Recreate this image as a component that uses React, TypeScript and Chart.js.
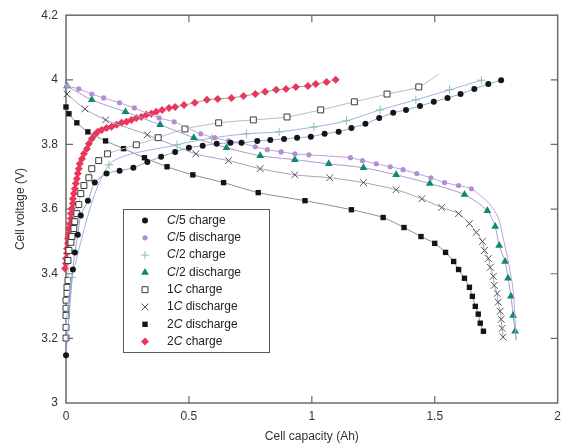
import React, { useEffect, useRef } from 'react';
import { Chart, registerables } from 'chart.js';

Chart.register(...registerables);

const xTicks = [0, 0.5, 1, 1.5, 2];
const yTicks = [3, 3.2, 3.4, 3.6, 3.8, 4, 4.2];
const xTitle = 'Cell capacity (Ah)';
const yTitle = 'Cell voltage (V)';

const legendLabels = [
  'C/5 charge',
  'C/5 discharge',
  'C/2 charge',
  'C/2 discharge',
  '1C charge',
  '1C discharge',
  '2C discharge',
  '2C charge',
];

const c5Charge: [number, number][] = [
  [0, 3.148], [0.028, 3.413], [0.036, 3.466], [0.048, 3.521], [0.06, 3.58], [0.089, 3.626],
  [0.117, 3.682], [0.165, 3.71], [0.218, 3.719], [0.274, 3.728], [0.331, 3.746], [0.387, 3.762],
  [0.444, 3.777], [0.5, 3.79], [0.556, 3.796], [0.613, 3.802], [0.669, 3.805], [0.714, 3.805],
  [0.778, 3.811], [0.831, 3.814], [0.887, 3.817], [0.94, 3.821], [0.996, 3.824], [1.052, 3.833],
  [1.109, 3.839], [1.161, 3.851], [1.218, 3.864], [1.274, 3.882], [1.331, 3.898], [1.383, 3.907],
  [1.44, 3.919], [1.496, 3.932], [1.552, 3.944], [1.605, 3.956], [1.661, 3.972], [1.718, 3.987],
  [1.77, 3.999],
];
const c5ChargeTail: [number, number][] = [];

const c5Discharge: [number, number][] = [
  [0.004, 3.981], [0.052, 3.972], [0.105, 3.956], [0.153, 3.944], [0.218, 3.929], [0.278, 3.913],
  [0.379, 3.882], [0.44, 3.87], [0.548, 3.833], [0.605, 3.821], [0.661, 3.811], [0.714, 3.805],
  [0.77, 3.793], [0.819, 3.784], [0.875, 3.777], [0.931, 3.771], [0.988, 3.768], [1.157, 3.759],
  [1.206, 3.75], [1.262, 3.74], [1.319, 3.731], [1.371, 3.722], [1.427, 3.71], [1.484, 3.697],
  [1.54, 3.682], [1.597, 3.673], [1.649, 3.663],
];
const c5DischargeTail: [number, number][] = [
  [1.722, 3.617], [1.758, 3.574], [1.778, 3.512], [1.798, 3.441], [1.819, 3.349], [1.831, 3.194],
];

const c2ChargeHead: [number, number][] = [[0, 3.241]];
const c2Charge: [number, number][] = [
  [0.024, 3.389], [0.175, 3.737], [0.452, 3.799], [0.593, 3.82], [0.734, 3.833], [0.867, 3.839],
  [1.008, 3.854], [1.141, 3.873], [1.278, 3.907], [1.423, 3.938], [1.56, 3.969], [1.69, 3.999],
];

const c2Discharge: [number, number][] = [
  [0.004, 3.981], [0.105, 3.938], [0.242, 3.901], [0.383, 3.861], [0.52, 3.821], [0.653, 3.79],
  [0.79, 3.765], [0.931, 3.753], [1.069, 3.74], [1.21, 3.728], [1.343, 3.706], [1.48, 3.679],
  [1.621, 3.645], [1.714, 3.595], [1.746, 3.546], [1.762, 3.487], [1.786, 3.438], [1.798, 3.386],
  [1.81, 3.33], [1.819, 3.271], [1.827, 3.222],
];
const c2DischargeTail: [number, number][] = [[1.831, 3.196]];

const oneCCharge: [number, number][] = [
  [0, 3.201], [0, 3.234], [0, 3.271], [0, 3.293], [0, 3.318], [0.004, 3.339], [0.004, 3.358],
  [0.008, 3.379], [0.008, 3.441], [0.012, 3.472], [0.02, 3.497], [0.024, 3.515], [0.032, 3.54],
  [0.036, 3.561], [0.044, 3.586], [0.052, 3.614], [0.06, 3.648], [0.073, 3.673], [0.093, 3.697],
  [0.105, 3.725], [0.133, 3.75], [0.169, 3.771], [0.286, 3.799], [0.375, 3.821], [0.484, 3.848],
  [0.621, 3.867], [0.762, 3.876], [0.899, 3.885], [1.036, 3.907], [1.173, 3.932], [1.306, 3.956],
  [1.435, 3.978],
];
const oneCChargeTail: [number, number][] = [[1.516, 4.018]];

const oneCDischarge: [number, number][] = [
  [0.004, 3.956], [0.077, 3.91], [0.161, 3.876], [0.331, 3.83], [0.528, 3.771], [0.661, 3.75],
  [0.79, 3.725], [0.931, 3.706], [1.073, 3.697], [1.21, 3.682], [1.343, 3.66], [1.448, 3.632],
  [1.528, 3.605], [1.597, 3.586], [1.641, 3.555], [1.669, 3.528], [1.694, 3.5], [1.702, 3.472],
  [1.718, 3.447], [1.726, 3.42], [1.738, 3.392], [1.742, 3.364], [1.754, 3.339], [1.758, 3.312],
  [1.766, 3.284], [1.77, 3.259], [1.774, 3.231], [1.778, 3.204],
];
const oneCDischargeTail: [number, number][] = [];

const twoCDischarge: [number, number][] = [
  [0, 3.916], [0.012, 3.895], [0.044, 3.867], [0.089, 3.839], [0.161, 3.811], [0.234, 3.787],
  [0.319, 3.759], [0.411, 3.731], [0.516, 3.706], [0.641, 3.682], [0.782, 3.651], [0.972, 3.626],
  [1.161, 3.598], [1.29, 3.574], [1.375, 3.543], [1.444, 3.515], [1.5, 3.494], [1.544, 3.466],
  [1.577, 3.438], [1.597, 3.413], [1.621, 3.386], [1.641, 3.358], [1.653, 3.33], [1.665, 3.299],
  [1.677, 3.275], [1.685, 3.247], [1.698, 3.222],
];
const twoCDischargeTail: [number, number][] = [];

const twoCCharge: [number, number][] = [
  [-0.006, 3.265], [-0.006, 3.281], [-0.006, 3.296], [-0.006, 3.312], [-0.006, 3.327], [-0.006, 3.342],
  [-0.006, 3.355], [-0.006, 3.37], [-0.004, 3.386], [-0.004, 3.401], [-0.004, 3.416], [0, 3.432],
  [0, 3.447], [0.004, 3.463], [0.004, 3.478], [0.008, 3.494], [0.008, 3.509], [0.012, 3.524],
  [0.012, 3.54], [0.016, 3.555], [0.02, 3.571], [0.02, 3.586], [0.024, 3.602], [0.028, 3.617],
  [0.028, 3.632], [0.032, 3.648], [0.036, 3.663], [0.04, 3.679], [0.044, 3.694], [0.048, 3.71],
  [0.052, 3.725], [0.056, 3.74], [0.065, 3.756], [0.073, 3.771], [0.085, 3.787], [0.093, 3.802],
  [0.105, 3.818], [0.117, 3.83], [0.129, 3.839], [0.145, 3.845], [0.165, 3.851], [0.185, 3.855],
  [0.206, 3.861], [0.226, 3.867], [0.246, 3.87], [0.266, 3.876], [0.286, 3.882], [0.306, 3.885],
  [0.327, 3.892], [0.347, 3.895], [0.367, 3.901], [0.391, 3.907], [0.419, 3.913], [0.444, 3.916],
  [0.48, 3.922], [0.524, 3.929], [0.573, 3.938], [0.617, 3.941], [0.673, 3.944], [0.722, 3.95],
  [0.77, 3.956], [0.81, 3.963], [0.855, 3.969], [0.895, 3.972], [0.935, 3.978], [0.984, 3.981],
  [1.016, 3.987], [1.06, 3.993], [1.097, 4.0],
];
const twoCChargeTail: [number, number][] = [];

type Style = 'circle' | 'triangle' | 'rect' | 'rectRot' | 'cross' | 'crossRot';
interface SeriesDef {
  head: [number, number][];
  pts: [number, number][];
  tail: [number, number][];
  style: Style;
  r: number;
  fill: string;
  stroke: string;
  bw: number;
  line: string;
}

const seriesDefs: SeriesDef[] = [
  { head: [], pts: c5Charge, tail: c5ChargeTail, style: 'circle', r: 3, fill: '#161616', stroke: '#161616', bw: 0, line: '#8fa6dc' },
  { head: [], pts: c5Discharge, tail: c5DischargeTail, style: 'circle', r: 2.6, fill: '#b48ed0', stroke: '#b48ed0', bw: 0, line: '#b8a3d8' },
  { head: c2ChargeHead, pts: c2Charge, tail: [], style: 'cross', r: 4.2, fill: '#86c6a4', stroke: '#86c6a4', bw: 1, line: '#9db2e4' },
  { head: [], pts: c2Discharge, tail: c2DischargeTail, style: 'triangle', r: 4.5, fill: '#0f8a6b', stroke: '#0f8a6b', bw: 0, line: '#a89ccc' },
  { head: [], pts: oneCCharge, tail: oneCChargeTail, style: 'rect', r: 4.2, fill: '#ffffff', stroke: '#3a3a3a', bw: 1, line: '#b9b9c6' },
  { head: [], pts: oneCDischarge, tail: oneCDischargeTail, style: 'crossRot', r: 4.8, fill: '#555555', stroke: '#555555', bw: 1, line: '#a69fbe' },
  { head: [], pts: twoCDischarge, tail: twoCDischargeTail, style: 'rect', r: 3.8, fill: '#141414', stroke: '#141414', bw: 0, line: '#8c8c8c' },
  { head: [], pts: twoCCharge, tail: twoCChargeTail, style: 'rectRot', r: 4, fill: '#e8375b', stroke: '#e8375b', bw: 0, line: '#9a9a9a' },
];

const FONT = '"Liberation Sans", Arial, Helvetica, sans-serif';

function drawShape(ctx: CanvasRenderingContext2D, s: SeriesDef, x: number, y: number) {
  const r = s.r;
  ctx.save();
  ctx.fillStyle = s.fill;
  ctx.strokeStyle = s.stroke;
  ctx.lineWidth = s.bw || 1;
  ctx.beginPath();
  if (s.style === 'circle') {
    ctx.arc(x, y, r, 0, Math.PI * 2);
    ctx.fill();
  } else if (s.style === 'triangle') {
    let a = 0;
    ctx.moveTo(x + Math.sin(a) * r, y - Math.cos(a) * r);
    a += (2 * Math.PI) / 3;
    ctx.lineTo(x + Math.sin(a) * r, y - Math.cos(a) * r);
    a += (2 * Math.PI) / 3;
    ctx.lineTo(x + Math.sin(a) * r, y - Math.cos(a) * r);
    ctx.closePath();
    ctx.fill();
  } else if (s.style === 'rect') {
    const h = Math.SQRT1_2 * r;
    ctx.rect(x - h, y - h, 2 * h, 2 * h);
    ctx.fill();
    if (s.bw) ctx.stroke();
  } else if (s.style === 'rectRot') {
    ctx.moveTo(x, y - r);
    ctx.lineTo(x + r, y);
    ctx.lineTo(x, y + r);
    ctx.lineTo(x - r, y);
    ctx.closePath();
    ctx.fill();
  } else if (s.style === 'cross') {
    ctx.moveTo(x - r, y);
    ctx.lineTo(x + r, y);
    ctx.moveTo(x, y - r);
    ctx.lineTo(x, y + r);
    ctx.stroke();
  } else {
    const o = Math.SQRT1_2 * r;
    ctx.moveTo(x - o, y - o);
    ctx.lineTo(x + o, y + o);
    ctx.moveTo(x - o, y + o);
    ctx.lineTo(x + o, y - o);
    ctx.stroke();
  }
  ctx.restore();
}

const framePlugin = {
  id: 'frameTicks',
  beforeDatasetsDraw(chart: any) {
    const { ctx, chartArea: a, scales } = chart;
    ctx.save();
    ctx.strokeStyle = '#6a6a6a';
    ctx.lineWidth = 1.5;
    ctx.strokeRect(a.left, a.top, a.right - a.left, a.bottom - a.top);
    const L = 7;
    ctx.lineWidth = 1.2;
    ctx.beginPath();
    xTicks.slice(1, -1).forEach((v) => {
      const px = scales.x.getPixelForValue(v);
      ctx.moveTo(px, a.bottom);
      ctx.lineTo(px, a.bottom - L);
      ctx.moveTo(px, a.top);
      ctx.lineTo(px, a.top + L);
    });
    yTicks.slice(1, -1).forEach((v) => {
      const py = scales.y.getPixelForValue(v);
      ctx.moveTo(a.left, py);
      ctx.lineTo(a.left + L, py);
      ctx.moveTo(a.right, py);
      ctx.lineTo(a.right - L, py);
    });
    ctx.stroke();
    ctx.restore();
  },
  afterDraw(chart: any) {
    const { ctx } = chart;
    ctx.save();
    const bx = 123.5, by = 209.5, bw = 146, bh = 143;
    ctx.fillStyle = '#ffffff';
    ctx.fillRect(bx, by, bw, bh);
    ctx.strokeStyle = '#5a5a5a';
    ctx.lineWidth = 1;
    ctx.strokeRect(bx, by, bw, bh);
    legendLabels.forEach((label, i) => {
      const y = 220.5 + i * 17.3;
      drawShape(ctx, seriesDefs[i], 145, y);
      ctx.fillStyle = '#222222';
      ctx.textBaseline = 'middle';
      ctx.textAlign = 'left';
      let x = 167;
      const ci = label.indexOf('C');
      const parts: [string, boolean][] = [
        [label.slice(0, ci), false],
        ['C', true],
        [label.slice(ci + 1), false],
      ];
      parts.forEach(([t, it]) => {
        if (!t) return;
        ctx.font = (it ? 'italic ' : '') + '12px ' + FONT;
        ctx.fillText(t, x, y);
        x += ctx.measureText(t).width;
      });
    });
    ctx.restore();
  },
};

function fmt(v: number) {
  return String(Number(Number(v).toFixed(2)));
}

export default function App() {
  const ref = useRef<HTMLCanvasElement | null>(null);
  useEffect(() => {
    document.body.style.margin = '0';
    const canvas = ref.current;
    if (!canvas) return;
    const datasets = seriesDefs.map((s, i) => {
      const all = [...s.head, ...s.pts, ...s.tail];
      const radii = [
        ...s.head.map(() => 0),
        ...s.pts.map(() => s.r),
        ...s.tail.map(() => 0),
      ];
      return {
        label: legendLabels[i],
        data: all.map(([x, y]) => ({ x, y })),
        showLine: true,
        borderColor: s.line,
        borderWidth: 1,
        tension: 0.25,
        pointStyle: s.style,
        pointRadius: radii,
        pointHoverRadius: radii,
        pointBackgroundColor: s.fill,
        pointBorderColor: s.stroke,
        pointBorderWidth: s.bw,
        clip: false as any,
      };
    });
    const chart = new Chart(canvas, {
      type: 'scatter',
      data: { datasets: datasets as any },
      options: {
        responsive: false,
        animation: false,
        events: [],
        layout: { padding: { top: 14, right: 5, left: 0, bottom: 0 } },
        plugins: {
          legend: { display: false },
          tooltip: { enabled: false },
        },
        scales: {
          x: {
            type: 'linear',
            min: xTicks[0],
            max: xTicks[xTicks.length - 1],
            afterBuildTicks: (sc: any) => {
              sc.ticks = xTicks.map((v) => ({ value: v }));
            },
            afterFit: (sc: any) => {
              sc.height = 43;
            },
            grid: { display: false, drawTicks: false },
            border: { display: false },
            ticks: {
              padding: 6,
              color: '#333333',
              font: { family: FONT, size: 12 },
              callback: (v: any) => fmt(v),
            },
            title: {
              display: true,
              text: xTitle,
              color: '#333333',
              font: { family: FONT, size: 12 },
              padding: { top: 0, bottom: 2 },
            },
          },
          y: {
            type: 'linear',
            min: yTicks[0],
            max: yTicks[yTicks.length - 1],
            afterBuildTicks: (sc: any) => {
              sc.ticks = yTicks.map((v) => ({ value: v }));
            },
            afterFit: (sc: any) => {
              sc.width = 66;
            },
            grid: { display: false, drawTicks: false },
            border: { display: false },
            ticks: {
              padding: 8,
              color: '#333333',
              font: { family: FONT, size: 12 },
              callback: (v: any) => fmt(v),
            },
            title: {
              display: true,
              text: yTitle,
              color: '#333333',
              font: { family: FONT, size: 12 },
              padding: { top: 13, bottom: 0 },
            },
          },
        },
      },
      plugins: [framePlugin],
    });
    return () => chart.destroy();
  }, []);
  return <canvas ref={ref} width={567} height={446} style={{ display: 'block', width: 567, height: 446 }} />;
}
